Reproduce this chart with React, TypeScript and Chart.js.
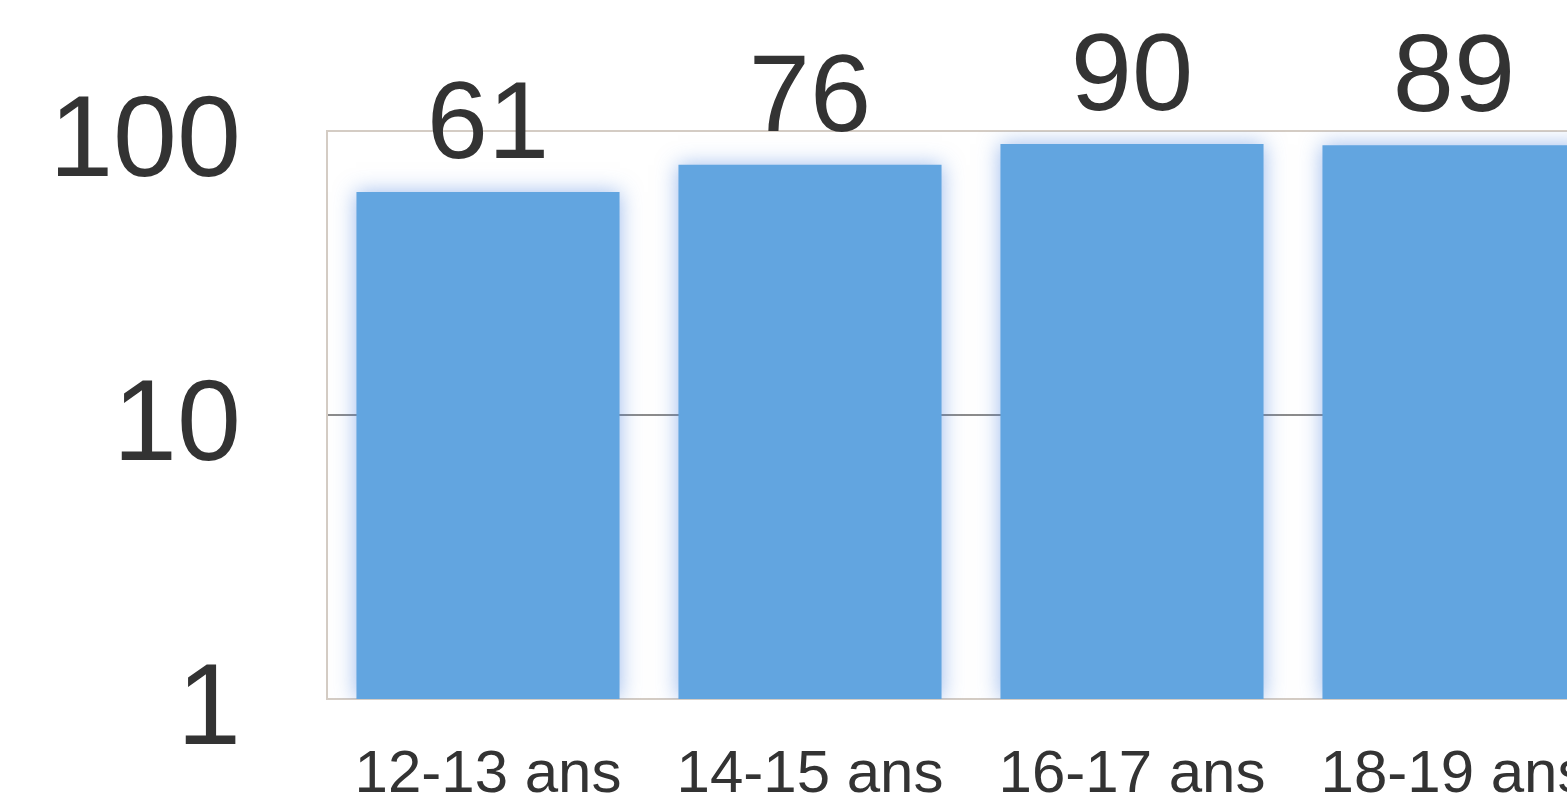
import React, { useEffect, useRef } from "react";
import { Chart, registerables } from "chart.js";

Chart.register(...registerables);

const categories = ["12-13 ans", "14-15 ans", "16-17 ans", "18-19 ans"];
const values = [61, 76, 90, 89];
const yTicks = [1, 10, 100];

const FONT = "'Liberation Sans', Arial, Helvetica, sans-serif";

const shadowAndLabels = {
  id: "shadowAndLabels",
  beforeDatasetsDraw(chart: any) {
    const ctx = chart.ctx;
    ctx.save();
    ctx.shadowColor = "rgba(60,120,220,0.5)";
    ctx.shadowBlur = 20;
  },
  afterDatasetsDraw(chart: any) {
    const ctx = chart.ctx;
    ctx.restore();
    const meta = chart.getDatasetMeta(0);
    ctx.save();
    ctx.font = `110px ${FONT}`;
    ctx.fillStyle = "#333333";
    ctx.textAlign = "center";
    ctx.textBaseline = "alphabetic";
    meta.data.forEach((bar: any, i: number) => {
      ctx.fillText(String(values[i]), bar.x, bar.y - 34);
    });
    ctx.restore();
  },
};

export default function App() {
  const ref = useRef<HTMLCanvasElement | null>(null);
  useEffect(() => {
    document.body.style.margin = "0";
    const chart = new Chart(ref.current as HTMLCanvasElement, {
      type: "bar",
      data: {
        labels: categories,
        datasets: [
          {
            data: values,
            backgroundColor: "#62a5e0",
            borderWidth: 0,
            barPercentage: 0.817,
            categoryPercentage: 1,
          },
        ],
      },
      plugins: [shadowAndLabels],
      options: {
        animation: false,
        responsive: false,
        devicePixelRatio: 1,
        layout: { padding: { top: 131, right: 25, left: 0, bottom: 0 } },
        plugins: { legend: { display: false }, tooltip: { enabled: false } },
        scales: {
          x: {
            grid: { display: false, drawTicks: false },
            border: { display: true, color: "#d4ccc4", width: 2 },
            ticks: {
              font: { family: FONT, size: 60 },
              color: "#333333",
              padding: 40,
              maxRotation: 0,
              autoSkip: false,
            },
            afterFit(scale: any) {
              scale.height = 100;
              scale.paddingLeft = 0;
              scale.paddingRight = 0;
            },
          },
          y: {
            type: "logarithmic",
            min: 1,
            max: 100,
            afterBuildTicks(scale: any) {
              scale.ticks = yTicks.map((v) => ({ value: v }));
            },
            grid: {
              drawTicks: false,
              color: (c: any) =>
                c.tick && c.tick.value === 10 ? "#8c8c8c" : "#d4ccc4",
              lineWidth: 2,
            },
            border: { display: true, color: "#d4ccc4", width: 2 },
            ticks: {
              font: { family: FONT, size: 115 },
              color: "#333333",
              padding: 86,
              labelOffset: 13,
              callback: (v: any) => String(v),
            },
            afterFit(scale: any) {
              scale.width = 327;
              scale.paddingTop = 0;
              scale.paddingBottom = 0;
            },
          },
        },
      },
    });
    return () => chart.destroy();
  }, []);
  return (
    <div
      style={{
        position: "fixed",
        left: 0,
        top: 0,
        width: 1567,
        height: 799,
        overflow: "hidden",
        background: "#ffffff",
      }}
    >
      <canvas ref={ref} width={1640} height={799} style={{ display: "block" }} />
    </div>
  );
}
